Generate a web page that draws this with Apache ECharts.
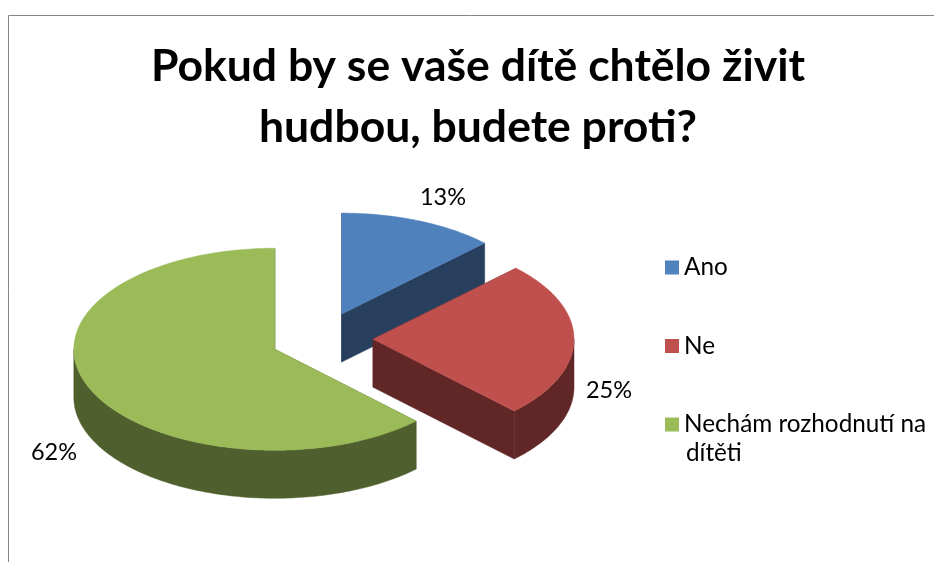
<!DOCTYPE html>
<html>
<head>
<meta charset="utf-8">
<style>html,body{margin:0;padding:0;background:#fff}#c{width:934px;height:562px}</style>
<script src="https://cdn.jsdelivr.net/npm/echarts@6/dist/echarts.min.js"></script>
</head>
<body>
<div id="c"></div>
<script>
const titleLines = ['Pokud by se vaše dítě chtělo živit', 'hudbou, budete proti?'];
const categories = ['Ano', 'Ne', 'Nechám rozhodnutí na dítěti'];
const values = [12.6, 25, 62.4];
const legendLabels = ['Ano', 'Ne', 'Nechám rozhodnutí na'];
const legendContinuation = 'dítěti';
const topColors = ['#4F81BD', '#C0504D', '#9BBB59'];
const sideColors = ['#283F5E', '#612727', '#4F5F2D'];

const FONT = 'Lato, "Open Sans", sans-serif';
const base = { x: 322, y: 339, rx: 201, ry: 101, depth: 48, explodeX: 51, explodeY: 27 };
const labelAnchors = [[443, 197], [609, 390], [54, 452]];
const total = values.reduce((a, b) => a + b, 0);
const rad = d => d * Math.PI / 180;

function sliceGeometry(i) {
  const before = values.slice(0, i).reduce((a, b) => a + b, 0);
  const start = before / total * 360;
  const end = (before + values[i]) / total * 360;
  const mid = (start + end) / 2;
  const cx = base.x + base.explodeX * Math.sin(rad(mid));
  const cy = base.y - base.explodeY * Math.cos(rad(mid));
  const pt = a => [cx + base.rx * Math.sin(rad(a)), cy - base.ry * Math.cos(rad(a))];
  return { start, end, mid, cx, cy, pt };
}
function arcPoints(pt, a, b) {
  const out = [];
  for (let t = a; t < b; t += 1) out.push(pt(t));
  out.push(pt(b));
  return out;
}
const down = p => [p[0], p[1] + base.depth];

function renderSlice(i) {
  const g = sliceGeometry(i);
  const c = [g.cx, g.cy];
  const children = [];
  const poly = (points, fill, stroke) => children.push({
    type: 'polygon', shape: { points },
    style: { fill, stroke: stroke || fill, lineWidth: 0.5 }
  });
  const side = sideColors[i];
  [g.start, g.end].forEach(a => {
    const p = g.pt(a);
    poly([c, p, down(p), down(c)], side);
  });
  const a0 = Math.max(g.start, 90), a1 = Math.min(g.end, 270);
  if (a1 > a0) {
    const arc = arcPoints(g.pt, a0, a1);
    poly(arc.concat(arc.map(down).reverse()), side);
  }
  poly([c].concat(arcPoints(g.pt, g.start, g.end)), topColors[i]);
  return { type: 'group', children };
}

const series = categories.map((name, i) => ({
  name,
  type: 'custom',
  coordinateSystem: 'none',
  z: 2 + i,
  itemStyle: { color: topColors[i] },
  data: [[values[i]]],
  renderItem: () => renderSlice(i),
  silent: true
}));
series.push({
  name: 'labels',
  type: 'custom',
  coordinateSystem: 'none',
  z: 10,
  data: values.map(v => [v]),
  silent: true,
  renderItem: (params, api) => ({
    type: 'text',
    style: {
      text: Math.round(api.value(0)) + '%',
      x: labelAnchors[params.dataIndex][0],
      y: labelAnchors[params.dataIndex][1],
      align: 'center', verticalAlign: 'middle',
      font: '23.5px ' + FONT, fill: '#000'
    }
  })
});

const chart = echarts.init(document.getElementById('c'), null, { renderer: 'canvas' });
chart.setOption({
  animation: false,
  backgroundColor: '#fff',
  title: {
    text: titleLines.join('\n'),
    left: 478, top: 36.5, padding: 0, textAlign: 'center',
    textStyle: { fontFamily: FONT, fontWeight: 'bold', fontSize: 44.5, lineHeight: 61, color: '#000' }
  },
  legend: {
    data: categories,
    orient: 'vertical',
    left: 665, top: 255.5, padding: 0,
    itemWidth: 14, itemHeight: 14, itemGap: 54.5, itemTextGap: 8,
    icon: 'rect',
    selectedMode: false,
    formatter: n => legendLabels[categories.indexOf(n)],
    textStyle: { fontFamily: FONT, fontSize: 24.3, color: '#000', lineHeight: 21 }
  },
  graphic: [
    { type: 'polyline', shape: { points: [[8.5, 562], [8.5, 15.5], [934, 15.5]] }, style: { fill: 'none', stroke: '#868686', lineWidth: 1 } },
    { type: 'text', left: 686, top: 441, style: { text: legendContinuation, font: '24.3px ' + FONT, fill: '#000' } }
  ],
  series
});
</script>
</body>
</html>
